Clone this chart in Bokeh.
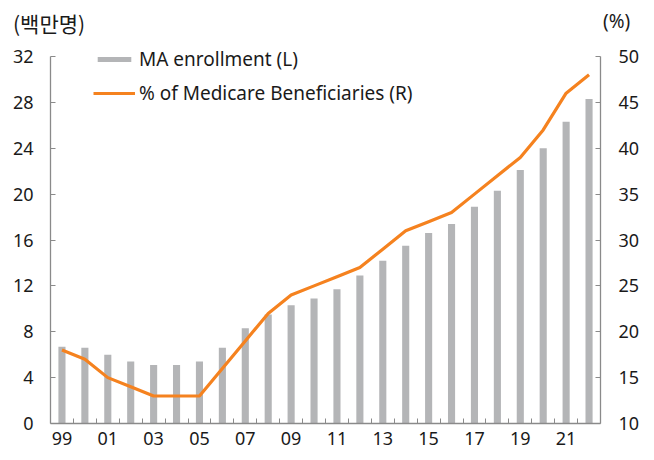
from bokeh.plotting import figure
from bokeh.layouts import column
from bokeh.models import (LinearAxis, Range1d, FixedTicker, Legend, Div,
                          LegendItem, ColumnDataSource)
from bokeh.embed import file_html
from bokeh.resources import INLINE

# ---- data ----
years = ["99", "00", "01", "02", "03", "04", "05", "06", "07", "08", "09", "10",
         "11", "12", "13", "14", "15", "16", "17", "18", "19", "20", "21", "22"]
ma_enrollment = [6.7, 6.6, 6.0, 5.4, 5.1, 5.1, 5.4, 6.6, 8.3, 9.5, 10.3, 10.9,
                 11.7, 12.9, 14.2, 15.5, 16.6, 17.4, 18.9, 20.3, 22.1, 24.0, 26.3, 28.3]
medicare_pct = [18, 17, 15, 14, 13, 13, 13, 16, 19, 22, 24, 25,
                26, 27, 29, 31, 32, 33, 35, 37, 39, 42, 46, 48]
x_tick_labels = ["99", "01", "03", "05", "07", "09", "11", "13", "15", "17", "19", "21"]
left_ticks = [0, 4, 8, 12, 16, 20, 24, 28, 32]
right_ticks = [10, 15, 20, 25, 30, 35, 40, 45, 50]
left_unit = "(백만명)"
right_unit = "(%)"

FONT = "Noto Sans"
KFONT = "Noto Sans CJK KR"
AXIS_COLOR = "#8a8a8a"
TEXT_COLOR = "#1a1a1a"
BAR_COLOR = "#b4b5b7"
LINE_COLOR = "#f5821f"

# layout (page pixels)
W, H = 654, 460
HEADER_H = 36
FRAME_LEFT, FRAME_RIGHT = 50, 600
AXIS_TOP, AXIS_BOTTOM = 56, 423          # where 32 / 0 sit
MAIN_H = H - HEADER_H
frame_h = AXIS_BOTTOM - HEADER_H         # frame runs from figure top to axis
axis_px = AXIS_BOTTOM - AXIS_TOP
l_lo, l_hi = left_ticks[0], left_ticks[-1]
r_lo, r_hi = right_ticks[0], right_ticks[-1]
l_top = l_lo + (l_hi - l_lo) * frame_h / axis_px
r_top = r_lo + (r_hi - r_lo) * frame_h / axis_px

# ---- header with the unit labels ----
hdr_html = (
    f'<div style="position:relative;width:{W}px;height:{HEADER_H}px;'
    f'color:{TEXT_COLOR};">'
    f'<span style="position:absolute;left:13px;top:12px;font-family:\'{KFONT}\';'
    f'font-size:21px;line-height:22px;white-space:nowrap;">{left_unit}</span>'
    f'<span style="position:absolute;left:603px;top:11px;font-family:\'{FONT}\';'
    f'font-size:19px;line-height:20px;white-space:nowrap;">{right_unit}</span>'
    '</div>'
)
hdr = Div(text=hdr_html, width=W, height=HEADER_H, margin=0)

# ---- main chart ----
xs = list(range(len(years)))
src = ColumnDataSource(dict(x=xs, year=years, ma=ma_enrollment, pct=medicare_pct))

p = figure(width=W, height=MAIN_H, output_backend="svg", toolbar_location=None,
           x_range=Range1d(-0.5, len(years) - 0.5), y_range=Range1d(l_lo, l_top),
           min_border_left=FRAME_LEFT, min_border_right=W - FRAME_RIGHT,
           min_border_top=0, min_border_bottom=H - AXIS_BOTTOM,
           x_axis_type=None, y_axis_type=None, margin=0)
p.outline_line_color = None
p.grid.visible = False
p.background_fill_color = "white"
p.border_fill_color = "white"
p.extra_y_ranges = {"pct": Range1d(r_lo, r_top)}

bars = p.vbar(x="x", top="ma", width=0.31, source=src, fill_color=BAR_COLOR,
              line_color=None)
line = p.line(x="x", y="pct", source=src, y_range_name="pct",
              line_color=LINE_COLOR, line_width=3.2)

def style(ax):
    ax.axis_line_color = AXIS_COLOR
    ax.axis_line_width = 1.3
    ax.major_tick_line_color = AXIS_COLOR
    ax.minor_tick_line_color = AXIS_COLOR
    ax.major_label_text_font = FONT
    ax.major_label_text_font_size = "18px"
    ax.major_label_text_color = TEXT_COLOR

# x axis: labels at centres, ticks at category boundaries (minor ticks)
label_pos = [years.index(t) for t in x_tick_labels]
xax = LinearAxis(ticker=FixedTicker(ticks=label_pos,
                                    minor_ticks=[i + 0.5 for i in xs[:-1]]))
xax.major_label_overrides = {years.index(t): t for t in x_tick_labels}
style(xax)
xax.major_tick_in = 0
xax.major_tick_out = 0
xax.minor_tick_in = 5
xax.minor_tick_out = 0
xax.major_label_standoff = 8
p.add_layout(xax, "below")

yl = LinearAxis(ticker=FixedTicker(ticks=left_ticks, minor_ticks=[]),
                bounds=(l_lo, l_hi))
style(yl)
yl.major_tick_in = 5
yl.major_tick_out = 0
yl.major_label_standoff = 17
p.add_layout(yl, "left")

yr = LinearAxis(y_range_name="pct", ticker=FixedTicker(ticks=right_ticks, minor_ticks=[]),
                bounds=(r_lo, r_hi))
style(yr)
yr.major_tick_in = 5
yr.major_tick_out = 0
yr.major_label_standoff = 18
p.add_layout(yr, "right")

# legend: location is its bottom-left corner, in px from the frame's bottom-left
legend = Legend(items=[LegendItem(label="MA enrollment (L)", renderers=[bars]),
                       LegendItem(label="% of Medicare Beneficiaries (R)", renderers=[line])],
                location=(43, 317), orientation="vertical",
                background_fill_alpha=0, border_line_color=None,
                label_text_font=FONT, label_text_font_size="19px",
                label_text_color=TEXT_COLOR, glyph_width=42, glyph_height=6,
                label_standoff=4, spacing=8, padding=0, margin=0)
p.add_layout(legend)

page = column(hdr, p, spacing=0)
open("out.html", "w").write(file_html(page, INLINE))
